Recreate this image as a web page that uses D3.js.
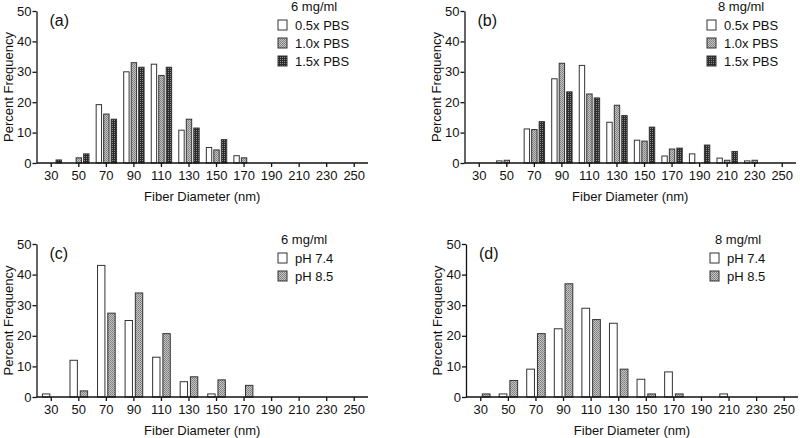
<!DOCTYPE html>
<html>
<head>
<meta charset="utf-8">
<script src="https://cdn.jsdelivr.net/npm/d3@7"></script>
<style>
  body { margin: 0; background: #fff; }
  svg text { font-family: "Liberation Sans", Arial, sans-serif; fill: #111; }
</style>
</head>
<body>
<div id="chart"></div>
<script>
// diameter bins (nm)
var diameters = ["30", "50", "70", "90", "110", "130", "150", "170", "190", "210", "230", "250"];
var yTicks = [0, 10, 20, 30, 40, 50];

// (a) 6 mg/ml, PBS strength
var pbs6_05 = [0, 0, 19.2, 30.0, 32.5, 10.8, 5.1, 2.4, 0, 0, 0, 0];
var pbs6_10 = [0, 1.7, 16.1, 33.0, 28.8, 14.4, 4.3, 1.7, 0, 0, 0, 0];
var pbs6_15 = [1.0, 3.0, 14.4, 31.5, 31.5, 11.5, 7.7, 0, 0, 0, 0, 0];

// (b) 8 mg/ml, PBS strength
var pbs8_05 = [0, 0.7, 11.2, 27.7, 32.1, 13.4, 7.5, 2.3, 3.0, 1.6, 0.7, 0];
var pbs8_10 = [0, 0.9, 11.0, 32.8, 22.7, 19.0, 7.2, 4.6, 0, 0.9, 0.9, 0];
var pbs8_15 = [0, 0, 13.6, 23.4, 21.4, 15.6, 11.8, 4.9, 5.9, 3.8, 0, 0];

// (c) 6 mg/ml, pH
var ph6_74 = [1.0, 12.0, 43.0, 25.0, 13.0, 5.0, 1.0, 0, 0, 0, 0, 0];
var ph6_85 = [0, 2.0, 27.4, 34.0, 20.7, 6.6, 5.6, 3.8, 0, 0, 0, 0];

// (d) 8 mg/ml, pH
var ph8_74 = [0, 1.0, 9.1, 22.3, 29.0, 24.1, 5.8, 8.2, 0, 1.0, 0, 0];
var ph8_85 = [1.0, 5.4, 20.7, 37.0, 25.3, 9.1, 1.0, 1.0, 0, 0, 0, 0];

var pbsNames = ["0.5x PBS", "1.0x PBS", "1.5x PBS"];
var phNames = ["pH 7.4", "pH 8.5"];

var svgWidth = 800;
var svgHeight = 438;

var svg = d3.select("#chart")
  .append("svg")
  .attr("width", svgWidth)
  .attr("height", svgHeight);

// fill patterns like the Prism output
var defs = svg.append("defs");

var pGray = defs.append("pattern")
  .attr("id", "fillGray")
  .attr("patternUnits", "userSpaceOnUse")
  .attr("width", 2).attr("height", 2);
pGray.append("rect").attr("width", 2).attr("height", 2).attr("fill", "#c4c4c4");
pGray.append("rect").attr("width", 1).attr("height", 1).attr("fill", "#7c7c7c");
pGray.append("rect").attr("x", 1).attr("y", 1).attr("width", 1).attr("height", 1).attr("fill", "#8a8a8a");

var pDark = defs.append("pattern")
  .attr("id", "fillDark")
  .attr("patternUnits", "userSpaceOnUse")
  .attr("width", 2).attr("height", 2);
pDark.append("rect").attr("width", 2).attr("height", 2).attr("fill", "#2a2a2a");
pDark.append("rect").attr("width", 1).attr("height", 1).attr("fill", "#8c8c8c");

var fillsPbs = ["#ffffff", "url(#fillGray)", "url(#fillDark)"];
var fillsPh = ["#ffffff", "url(#fillGray)"];

function drawPanel(opt) {
  var g = svg.append("g");

  var x = d3.scaleBand()
    .domain(diameters)
    .range([opt.left + 1, opt.right])
    .paddingInner(opt.pad)
    .paddingOuter(opt.pad / 2);

  var y = d3.scaleLinear()
    .domain([0, 50])
    .range([opt.bottom, opt.top]);

  var xSub = d3.scaleBand()
    .domain(d3.range(opt.series.length))
    .range([0, x.bandwidth()])
    .paddingInner(0.28);

  // bars (zero bins are skipped)
  opt.series.forEach(function(vals, i) {
    var pts = vals
      .map(function(v, j) { return { cat: diameters[j], value: v }; })
      .filter(d => d.value > 0);

    g.append("g").selectAll("rect")
      .data(pts)
      .enter()
      .append("rect")
      .attr("x", d => x(d.cat) + xSub(i))
      .attr("y", d => y(d.value))
      .attr("width", xSub.bandwidth())
      .attr("height", d => y(0) - y(d.value))
      .attr("fill", opt.fills[i])
      .attr("stroke", "#333")
      .attr("stroke-width", 1);
  });

  // axes
  var bottomAxis = d3.axisBottom(x).tickSize(4).tickPadding(4).tickSizeOuter(0);
  var leftAxis = d3.axisLeft(y).tickValues(yTicks).tickSize(4).tickPadding(1).tickSizeOuter(0);

  var xAxis = g.append("g")
    .attr("transform", `translate(0, ${opt.bottom})`)
    .call(bottomAxis);
  xAxis.select(".domain").attr("d", `M${opt.left},0H${opt.right}`);

  var yAxis = g.append("g")
    .attr("transform", `translate(${opt.left}, 0)`)
    .call(leftAxis);

  g.selectAll(".domain, .tick line").attr("stroke", "#111").attr("stroke-width", 1.3);
  g.selectAll(".tick text")
    .attr("font-size", 13)
    .attr("font-family", "Liberation Sans, Arial, sans-serif")
    .attr("fill", "#111");

  // axis titles
  g.append("text")
    .attr("x", (opt.left + opt.right) / 2)
    .attr("y", opt.bottom + 38)
    .attr("text-anchor", "middle")
    .attr("font-size", 13)
    .text("Fiber Diameter (nm)");

  g.append("text")
    .attr("transform", "rotate(-90)")
    .attr("x", -(opt.top + opt.bottom) / 2)
    .attr("y", opt.left - 24)
    .attr("text-anchor", "middle")
    .attr("font-size", 13)
    .text("Percent Frequency");

  // panel letter
  g.append("text")
    .attr("x", opt.left + 13)
    .attr("y", opt.top + 15)
    .attr("font-size", 16)
    .text(opt.letter);

  // legend
  var lg = g.append("g")
    .attr("transform", `translate(${opt.legX}, ${opt.legY})`);

  lg.append("text")
    .attr("x", opt.titleDx)
    .attr("y", 0)
    .attr("font-size", 13)
    .text(opt.legTitle);

  opt.names.forEach(function(name, i) {
    lg.append("rect")
      .attr("x", 0)
      .attr("y", 9 + i * 18)
      .attr("width", 9)
      .attr("height", 10)
      .attr("fill", opt.fills[i])
      .attr("stroke", "#333")
      .attr("stroke-width", 1);
    lg.append("text")
      .attr("x", 17)
      .attr("y", 19 + i * 18)
      .attr("font-size", 13)
      .text(name);
  });
}

drawPanel({
  left: 36.5, right: 368, top: 11, bottom: 163, pad: 0.26,
  series: [pbs6_05, pbs6_10, pbs6_15], fills: fillsPbs, names: pbsNames,
  letter: "(a)", legTitle: "6 mg/ml", legX: 278, legY: 11, titleDx: 13
});

drawPanel({
  left: 464.5, right: 796, top: 11, bottom: 163, pad: 0.26,
  series: [pbs8_05, pbs8_10, pbs8_15], fills: fillsPbs, names: pbsNames,
  letter: "(b)", legTitle: "8 mg/ml", legX: 707, legY: 11, titleDx: 11
});

drawPanel({
  left: 36.5, right: 368, top: 244, bottom: 397, pad: 0.36,
  series: [ph6_74, ph6_85], fills: fillsPh, names: phNames,
  letter: "(c)", legTitle: "6 mg/ml", legX: 278, legY: 244, titleDx: 3
});

drawPanel({
  left: 466, right: 798, top: 244, bottom: 397, pad: 0.33,
  series: [ph8_74, ph8_85], fills: fillsPh, names: phNames,
  letter: "(d)", legTitle: "8 mg/ml", legX: 710, legY: 244, titleDx: 5
});
</script>
</body>
</html>
